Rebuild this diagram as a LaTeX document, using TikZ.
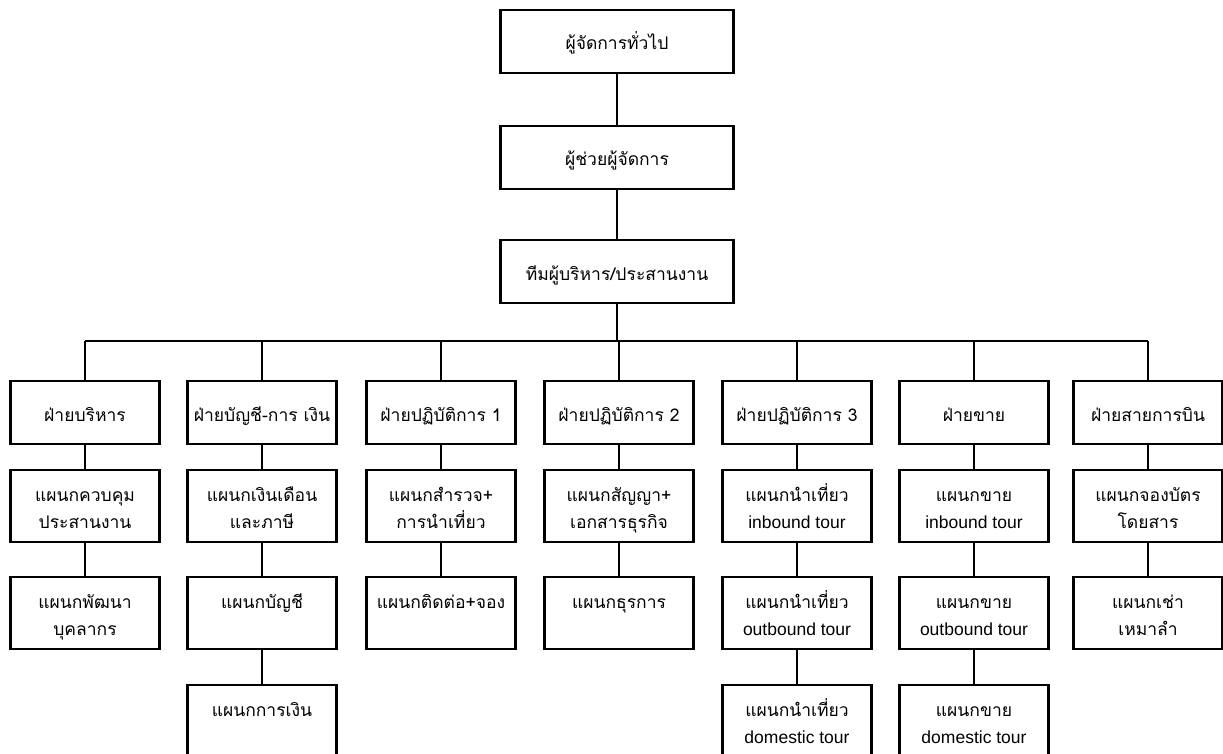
\documentclass[tikz,border=0pt]{standalone}
\usepackage{fontspec}
\setmainfont{Liberation Sans}
\newfontfamily\thaif[Script=Thai]{Loma}
\newfontfamily\latf{Liberation Sans}
\newcommand\mystrut{\rule[-5pt]{0pt}{27pt}}
\newcommand\twol[2]{#1\mystrut\\#2\mystrut}
\tikzset{
  box/.style={draw, line width=2.6pt, minimum width=149pt, inner sep=0pt, align=center,
    font=\thaif\fontsize{17.5}{27}\selectfont},
  hbox/.style={box, minimum height=63pt},
  tbox/.style={box, minimum height=72pt},
  topbox/.style={hbox, minimum width=233pt},
  link/.style={line width=1.3pt}
}
\begin{document}
\begin{tikzpicture}[x=1pt,y=-1pt]
\clip (0,0) rectangle (1223,754);
\fill[white] (0,0) rectangle (1223,754);
% top chain
\node[topbox] (g1) at (617,41.5) {ผู้จัดการทั่วไป\mystrut};
\node[topbox] (g2) at (617,157.5) {ผู้ช่วยผู้จัดการ\mystrut};
\node[topbox] (g3) at (617,271.5) {ทีมผู้บริหาร/ประสานงาน\mystrut};
\coordinate (bus) at (617,341);
% divisions
\node[hbox] (d1) at (85,412.5) {ฝ่ายบริหาร\mystrut};
\node[hbox] (d2) at (262,412.5) {ฝ่ายบัญชี-การ เงิน\mystrut};
\node[hbox] (d3) at (441,412.5) {ฝ่ายปฏิบัติการ 1\mystrut};
\node[hbox] (d4) at (619,412.5) {ฝ่ายปฏิบัติการ 2\mystrut};
\node[hbox] (d5) at (797,412.5) {ฝ่ายปฏิบัติการ 3\mystrut};
\node[hbox] (d6) at (974,412.5) {ฝ่ายขาย\mystrut};
\node[hbox] (d7) at (1148,412.5) {ฝ่ายสายการบิน\mystrut};
% row 2
\node[tbox] (a1) at (85,506) {\twol{แผนกควบคุม}{ประสานงาน}};
\node[tbox] (a2) at (262,506) {\twol{แผนกเงินเดือน}{และภาษี}};
\node[tbox] (a3) at (441,506) {\twol{แผนกสำรวจ+}{การนำเที่ยว}};
\node[tbox] (a4) at (619,506) {\twol{แผนกสัญญา+}{เอกสารธุรกิจ}};
\node[tbox] (a5) at (797,506) {\twol{แผนกนำเที่ยว}{\latf inbound tour}};
\node[tbox] (a6) at (974,506) {\twol{แผนกขาย}{\latf inbound tour}};
\node[tbox] (a7) at (1148,506) {\twol{แผนกจองบัตร}{โดยสาร}};
% row 3
\node[tbox] (b1) at (85,613) {\twol{แผนกพัฒนา}{บุคลากร}};
\node[tbox] (b2) at (262,613) {\twol{แผนกบัญชี}{}};
\node[tbox] (b3) at (441,613) {\twol{แผนกติดต่อ+จอง}{}};
\node[tbox] (b4) at (619,613) {\twol{แผนกธุรการ}{}};
\node[tbox] (b5) at (797,613) {\twol{แผนกนำเที่ยว}{\latf outbound tour}};
\node[tbox] (b6) at (974,613) {\twol{แผนกขาย}{\latf outbound tour}};
\node[tbox] (b7) at (1148,613) {\twol{แผนกเช่า}{เหมาลำ}};
% row 4
\node[tbox] (c2) at (262,721) {\twol{แผนกการเงิน}{}};
\node[tbox] (c5) at (797,721) {\twol{แผนกนำเที่ยว}{\latf domestic tour}};
\node[tbox] (c6) at (974,721) {\twol{แผนกขาย}{\latf domestic tour}};
% connectors
\draw[link] (g1) -- (g2);
\draw[link] (g2) -- (g3);
\draw[link] (g3.south) -- (g3.south |- bus);
\draw[link] (d1.north |- bus) -- (d7.north |- bus);
\foreach \i in {1,...,7}{
  \draw[link] (d\i.north) -- (d\i.north |- bus);
  \draw[link] (d\i) -- (a\i);
  \draw[link] (a\i) -- (b\i);
}
\draw[link] (b2) -- (c2);
\draw[link] (b5) -- (c5);
\draw[link] (b6) -- (c6);
\end{tikzpicture}
\end{document}
